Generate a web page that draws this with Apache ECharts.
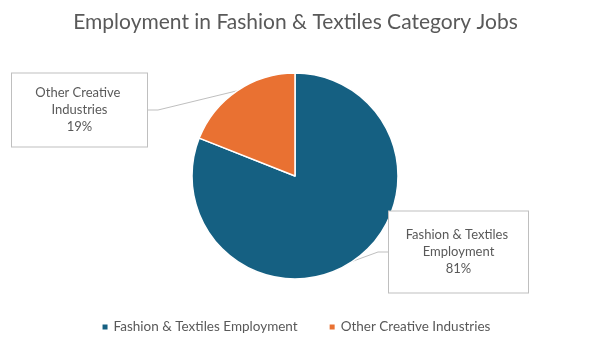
<!DOCTYPE html>
<html>
<head>
<meta charset="utf-8">
<script src="https://cdn.jsdelivr.net/npm/echarts@6/dist/echarts.min.js"></script>
<style>html,body{margin:0;padding:0;background:#fff}#c{width:591px;height:351px}</style>
</head>
<body>
<div id="c"></div>
<script>
const categories = ['Fashion & Textiles Employment', 'Other Creative Industries'];
const values = [81, 19];
const colors = ['#156082', '#E97132'];
const titleText = 'Employment in Fashion & Textiles Category Jobs';

const FONT = 'Lato';
const TXT = '#595959';

const chart = echarts.init(document.getElementById('c'), null, {renderer: 'canvas'});

const labelBoxes = [
  {cx: 458.5, cy: 252, padding: [15, 10, 15, 10], width: 119},
  {cx: 79.5, cy: 110, padding: [11, 10, 11, 10], width: 115}
];

chart.setOption({
  backgroundColor: '#ffffff',
  animation: false,
  title: {
    text: titleText,
    left: 'center',
    top: 7,
    textStyle: {fontFamily: FONT, fontSize: 21, fontWeight: 'normal', color: TXT}
  },
  legend: {
    bottom: 12,
    left: 'center',
    icon: 'rect',
    itemWidth: 7,
    itemHeight: 7,
    itemGap: 30,
    textStyle: {fontFamily: FONT, fontSize: 13.5, color: TXT},
    data: categories
  },
  series: [{
    type: 'pie',
    center: [295, 176],
    radius: [0, 103],
    startAngle: 90,
    clockwise: true,
    itemStyle: {borderColor: '#ffffff', borderWidth: 1.5},
    data: categories.map((c, i) => ({
      name: c,
      value: values[i],
      itemStyle: {color: colors[i]},
      label: {padding: labelBoxes[i].padding, width: labelBoxes[i].width}
    })),
    label: {
      show: true,
      formatter: '{b}\n{d}%',
      fontFamily: FONT,
      fontSize: 13,
      lineHeight: 17,
      color: TXT,
      align: 'center',
      overflow: 'break',
      backgroundColor: '#ffffff',
      borderColor: '#BFBFBF',
      borderWidth: 1
    },
    labelLine: {
      show: true,
      length: 10,
      length2: 10,
      lineStyle: {color: '#BFBFBF', width: 1}
    },
    labelLayout: function (p) {
      const b = labelBoxes[p.dataIndex];
      return {x: b.cx, y: b.cy, align: 'center', verticalAlign: 'middle'};
    }
  }]
});
</script>
</body>
</html>
